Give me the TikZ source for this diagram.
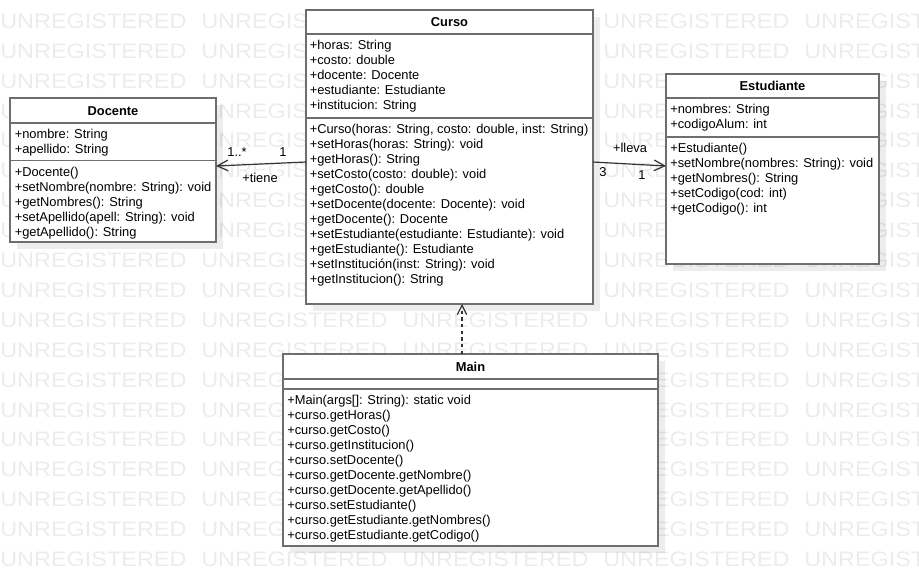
\documentclass[tikz,border=0pt]{standalone}
\usepackage{fontspec}
\setmainfont{Liberation Sans}
\usetikzlibrary{arrows.meta,calc,backgrounds}
\definecolor{boxline}{HTML}{6E6E6E}
\definecolor{wmcol}{HTML}{ECECEC}
\definecolor{conn}{HTML}{333333}
\begin{document}
\begin{tikzpicture}[x=0.75pt,y=-0.75pt,
  umlbox/.style={draw=boxline,line width=1.3pt,fill=white,rectangle,inner sep=0pt,outer sep=0pt},
  sepline/.style={draw=boxline,line width=1.3pt},
  txt/.style={anchor=base west,inner sep=0pt,font=\fontsize{9.65pt}{11.25pt}\selectfont},
  ttl/.style={anchor=base,inner sep=0pt,font=\fontsize{9.65pt}{11.25pt}\selectfont\bfseries},
  lbl/.style={inner sep=0pt,font=\fontsize{9.65pt}{11.25pt}\selectfont},
  wmtxt/.style={anchor=base west,inner sep=0pt,text=wmcol,font=\fontsize{15.7pt}{15.7pt}\selectfont},
  shadowfill/.style={fill=black,fill opacity=0.07},
  assoc/.style={draw=conn,line width=0.9pt,-{Straight Barb[length=8pt,width=8pt]}},
  dep/.style={draw=conn,line width=0.9pt,dash pattern=on 2.5pt off 2.5pt,-{Straight Barb[length=7pt,width=7pt]}}
]
\useasboundingbox (0,0) rectangle (919,586);

% class boxes
\node[umlbox,minimum width=154.5pt,minimum height=108pt] (docente) at (113,170) {};
\node[umlbox,minimum width=215.25pt,minimum height=220.5pt] (curso) at (449.5,157) {};
\node[umlbox,minimum width=159.75pt,minimum height=142.5pt] (estudiante) at (772.5,169) {};
\node[umlbox,minimum width=281.25pt,minimum height=144pt] (main) at (470.5,450) {};

% compartments
\draw[sepline] (docente.west |- 0,123) -- (docente.east |- 0,123);
\draw[sepline] (docente.west |- 0,160.5) -- (docente.east |- 0,160.5);
\draw[sepline] (curso.west |- 0,34) -- (curso.east |- 0,34);
\draw[sepline] (curso.west |- 0,118) -- (curso.east |- 0,118);
\draw[sepline] (estudiante.west |- 0,98) -- (estudiante.east |- 0,98);
\draw[sepline] (estudiante.west |- 0,137) -- (estudiante.east |- 0,137);
\draw[sepline] (main.west |- 0,379) -- (main.east |- 0,379);
\draw[sepline] (main.west |- 0,389) -- (main.east |- 0,389);

% titles
\node[ttl] (docT) at (113,115) {Docente};
\node[ttl] (cursoT) at (449.5,26.6) {Curso};
\node[ttl] (estT) at (772.5,90.7) {Estudiante};
\node[ttl] (mainT) at (470.5,371) {Main};

% Docente
\foreach \t [count=\i from 0] in {{+nombre: String},{+apellido: String}}
  \node[txt] (docA\i) at (14.5,{138.5+15*\i}) {\t};
\foreach \t [count=\i from 0] in {{+Docente()},{+setNombre(nombre: String): void},{+getNombres(): String},{+setApellido(apell: String): void},{+getApellido(): String}}
  \node[txt] (docM\i) at (14.5,{176+15*\i}) {\t};

% Curso
\foreach \t [count=\i from 0] in {{+horas: String},{+costo: double},{+docente: Docente},{+estudiante: Estudiante},{+institucion: String}}
  \node[txt] (curA\i) at (309.5,{49.5+15*\i}) {\t};
\foreach \t [count=\i from 0] in {{+Curso(horas: String, costo: double, inst: String)},{+setHoras(horas: String): void},{+getHoras(): String},{+setCosto(costo: double): void},{+getCosto(): double},{+setDocente(docente: Docente): void},{+getDocente(): Docente},{+setEstudiante(estudiante: Estudiante): void},{+getEstudiante(): Estudiante},{+setInstitución(inst: String): void},{+getInstitucion(): String}}
  \node[txt] (curM\i) at (309.5,{133.5+15*\i}) {\t};

% Estudiante
\foreach \t [count=\i from 0] in {{+nombres: String},{+codigoAlum: int}}
  \node[txt] (estA\i) at (670,{113.8+15*\i}) {\t};
\foreach \t [count=\i from 0] in {{+Estudiante()},{+setNombre(nombres: String): void},{+getNombres(): String},{+setCodigo(cod: int)},{+getCodigo(): int}}
  \node[txt] (estM\i) at (670,{152.2+15*\i}) {\t};

% Main
\foreach \t [count=\i from 0] in {{+Main(args[]: String): static void},{+curso.getHoras()},{+curso.getCosto()},{+curso.getInstitucion()},{+curso.setDocente()},{+curso.getDocente.getNombre()},{+curso.getDocente.getApellido()},{+curso.setEstudiante()},{+curso.getEstudiante.getNombres()},{+curso.getEstudiante.getCodigo()}}
  \node[txt] (mainM\i) at (287,{404.5+15*\i}) {\t};

% connectors
\draw[assoc] ($(curso.west)+(0,5)$) -- ($(docente.east)+(0,-4)$);
\draw[assoc] ($(curso.east)+(0,5)$) -- ($(estudiante.west)+(0,-3)$);
\draw[dep] ($(main.north)+(-8.5,0)$) -- ($(curso.south)+(12.5,0)$);

% connector labels
\node[lbl] (l1) at (237,152) {1..*};
\node[lbl] (l2) at (283,152) {1};
\node[lbl] (l3) at (260,178) {+tiene};
\node[lbl] (l4) at (630,148) {+lleva};
\node[lbl] (l5) at (603,172) {3};
\node[lbl] (l6) at (642,175) {1};

% watermark and shadows behind
\begin{scope}[on background layer]
  \begin{scope}
    \clip (0,0) rectangle (919,586);
    \foreach \r in {0,...,18}
      \foreach \c in {0,...,4}
        \node[wmtxt] (wm-\r-\c) at ({201*\c},{28.3+29.9*\r}) {\scalebox{1.12}[1]{UNREGISTERED}};
  \end{scope}
  \foreach \b in {docente,curso,estudiante,main}
    \fill[shadowfill] ($(\b.north west)+(7,7)$) rectangle ($(\b.south east)+(7,7)$);
\end{scope}
\end{tikzpicture}
\end{document}
